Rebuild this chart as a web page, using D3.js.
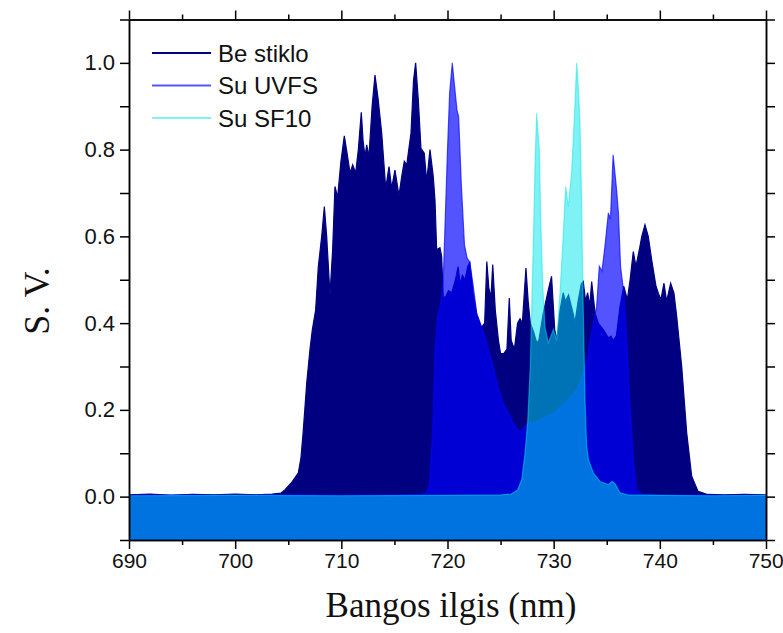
<!DOCTYPE html>
<html>
<head>
<meta charset="utf-8">
<script src="https://cdn.jsdelivr.net/npm/d3@7/dist/d3.min.js"></script>
<style>
  html, body { margin: 0; padding: 0; background: #fff; }
  svg { display: block; }
</style>
</head>
<body>
<svg id="chart" width="783" height="633"></svg>
<script>
// Normalised spectra, [wavelength nm, relative intensity]
const beStiklo = [
  [690,0.004],[692,0.006],[694,0.003],[696,0.005],[698,0.004],[700,0.006],[702,0.004],[703.5,0.006],
  [704.3,0.008],[704.7,0.016],[705.3,0.032],[705.95,0.055],[706.2,0.09],[706.4,0.147],[706.74,0.262],
  [707.05,0.34],[707.27,0.385],[707.58,0.43],[707.83,0.53],[708.15,0.60],[708.4,0.669],[708.62,0.60],
  [708.93,0.465],[709.18,0.569],[709.4,0.715],[709.65,0.69],[709.95,0.77],[710.28,0.832],[710.55,0.79],
  [710.82,0.746],[711.07,0.765],[711.35,0.746],[711.6,0.80],[711.88,0.886],[712.05,0.82],[712.23,0.784],
  [712.39,0.811],[712.6,0.784],[712.9,0.90],[713.17,0.972],[713.45,0.92],[713.8,0.839],[714.18,0.711],
  [714.49,0.761],[714.74,0.711],[715.05,0.753],[715.43,0.694],[715.7,0.74],[715.93,0.773],[716.16,0.765],
  [716.56,0.838],[716.8,0.96],[717.0,1.0],[717.25,0.915],[717.5,0.803],[717.81,0.792],[718.04,0.727],
  [718.35,0.80],[718.66,0.738],[718.82,0.684],[718.98,0.569],[719.29,0.574],[719.45,0.554],[719.6,0.46],
  [719.8,0.46],[720.1,0.475],[720.4,0.47],[720.75,0.50],[721.0,0.53],[721.2,0.49],[721.4,0.51],
  [721.65,0.50],[721.9,0.53],[722.1,0.54],[722.4,0.47],[722.75,0.42],[723.2,0.39],[723.5,0.40],
  [723.7,0.542],[723.9,0.48],[724.1,0.46],[724.26,0.535],[724.5,0.43],[724.8,0.36],[725.0,0.33],
  [725.3,0.33],[725.6,0.34],[725.82,0.458],[726.0,0.36],[726.3,0.34],[726.6,0.40],[726.83,0.41],
  [727.05,0.40],[727.39,0.527],[727.6,0.45],[727.8,0.40],[728.1,0.38],[728.4,0.355],[728.6,0.36],
  [729.0,0.42],[729.5,0.477],[729.8,0.508],[730.1,0.385],[730.3,0.36],[730.6,0.43],[730.9,0.47],
  [731.1,0.45],[731.4,0.465],[731.85,0.42],[732.0,0.40],[732.3,0.45],[732.6,0.49],[732.79,0.496],
  [733.0,0.45],[733.2,0.47],[733.4,0.44],[733.58,0.496],[733.9,0.423],[734.2,0.40],[734.68,0.385],
  [735.15,0.366],[735.4,0.37],[735.6,0.36],[735.9,0.37],[736.25,0.438],[736.6,0.485],[736.94,0.454],
  [737.2,0.50],[737.5,0.565],[737.75,0.531],[738.13,0.577],[738.3,0.60],[738.6,0.627],[738.91,0.60],
  [739.23,0.546],[739.64,0.485],[739.86,0.469],[740.1,0.454],[740.39,0.492],[740.64,0.45],[741.02,0.492],
  [741.33,0.469],[741.59,0.415],[742.06,0.30],[742.53,0.147],[743.0,0.047],[743.6,0.012],[744.5,0.005],
  [746,0.004],[748,0.005],[750,0.004]
];

const suUVFS = [
  [690,0.003],[695,0.004],[700,0.003],[705,0.004],[710,0.003],[715,0.004],[717.5,0.005],[718.0,0.008],
  [718.3,0.03],[718.6,0.15],[718.85,0.35],[719.1,0.42],[719.4,0.45],[719.6,0.5],[719.8,0.65],[720.0,0.8],
  [720.2,0.93],[720.45,1.0],[720.65,0.95],[720.9,0.89],[721.05,0.876],[721.3,0.72],[721.6,0.58],
  [721.85,0.55],[722.1,0.54],[722.4,0.49],[722.75,0.423],[723.2,0.392],[723.7,0.355],[724.3,0.30],
  [724.8,0.25],[725.26,0.216],[725.8,0.19],[726.2,0.17],[726.83,0.147],[727.2,0.16],[727.6,0.17],
  [728.24,0.17],[729.0,0.18],[730.1,0.193],[730.8,0.21],[731.35,0.223],[732.0,0.24],[732.6,0.27],
  [733.1,0.31],[733.5,0.37],[733.9,0.42],[734.05,0.438],[734.3,0.531],[734.55,0.52],[734.83,0.577],
  [735.15,0.654],[735.35,0.64],[735.6,0.788],[735.93,0.707],[736.1,0.654],[736.3,0.531],[736.6,0.47],
  [736.87,0.377],[737.1,0.25],[737.35,0.147],[737.55,0.07],[737.8,0.016],[738.3,0.006],[740,0.004],
  [745,0.003],[750,0.003]
];

const suSF10 = [
  [690,0.002],[700,0.003],[710,0.002],[720,0.003],[725,0.004],[726.0,0.006],[726.6,0.015],[727.0,0.04],
  [727.3,0.10],[727.55,0.17],[727.8,0.30],[727.95,0.45],[728.1,0.60],[728.25,0.77],[728.4,0.884],
  [728.55,0.83],[728.65,0.80],[728.77,0.646],[728.96,0.49],[729.18,0.39],[729.5,0.355],[729.97,0.385],
  [730.28,0.36],[730.6,0.47],[730.9,0.60],[731.13,0.715],[731.38,0.669],[731.69,0.745],[732.0,0.90],
  [732.17,1.0],[732.35,0.93],[732.48,0.86],[732.64,0.669],[732.72,0.516],[732.85,0.35],[732.95,0.223],
  [733.1,0.12],[733.27,0.085],[733.73,0.055],[734.36,0.035],[735.15,0.028],[735.5,0.035],[735.78,0.03],
  [736.25,0.009],[737,0.004],[740,0.003],[745,0.002],[750,0.003]
];

const seriesNames = ["Be stiklo", "Su UVFS", "Su SF10"];
const xMajorTicks = [690, 700, 710, 720, 730, 740, 750];
const xMinorTicks = [695, 705, 715, 725, 735, 745];
const yMajorTicks = [0.0, 0.2, 0.4, 0.6, 0.8, 1.0];
const yMinorTicks = [-0.1, 0.1, 0.3, 0.5, 0.7, 0.9, 1.1];
const xTitle = "Bangos ilgis (nm)";
const yTitle = "S. V.";

const svg = d3.select("#chart");
const plotLeft = 129, plotRight = 766, plotTop = 19.5, plotBottom = 540;

const x = d3.scaleLinear().domain([690, 750]).range([plotLeft, plotRight]);
const y = d3.scaleLinear().domain([-0.1, 1.1]).range([plotBottom, plotTop]);

const styles = [
  { data: beStiklo, color: "#000080", opacity: 1 },
  { data: suUVFS,   color: "#0000ff", opacity: 0.67 },
  { data: suSF10,   color: "#00e6eb", opacity: 0.5 }
];

const area = d3.area()
  .x(d => x(d[0]))
  .y0(y(-0.1))
  .y1(d => y(d[1]));
const line = d3.line()
  .x(d => x(d[0]))
  .y(d => y(d[1]));

svg.append("clipPath").attr("id", "plotClip")
  .append("rect").attr("x", plotLeft).attr("y", plotTop)
  .attr("width", plotRight - plotLeft).attr("height", plotBottom - plotTop);

const plot = svg.append("g").attr("clip-path", "url(#plotClip)");
styles.forEach(s => {
  plot.append("path").datum(s.data)
    .attr("d", area)
    .attr("fill", s.color)
    .attr("fill-opacity", s.opacity);
  plot.append("path").datum(s.data)
    .attr("d", line)
    .attr("fill", "none")
    .attr("stroke", s.color)
    .attr("stroke-opacity", s.opacity)
    .attr("stroke-width", 1.2);
});

// Axes: labelled bottom/left, mirrored unlabeled top/right, all ticks pointing out
const tickFont = "Liberation Sans, Arial, sans-serif";
function styleAxis(g, size) {
  g.selectAll(".domain").attr("stroke", "#000").attr("stroke-width", 1.5);
  g.selectAll(".tick line").attr("stroke", "#000").attr("stroke-width", 1.5);
  g.selectAll("text").attr("font-family", tickFont).attr("font-size", size || 22).attr("fill", "#111");
}

const xAxisG = svg.append("g").attr("transform", `translate(0,${plotBottom})`)
  .call(d3.axisBottom(x).tickValues(xMajorTicks).tickFormat(d3.format("d"))
    .tickSizeInner(9).tickSizeOuter(0).tickPadding(4))
  .call(styleAxis, 21);
// keep the last label inside the page edge
xAxisG.selectAll(".tick text").filter(d => d === 750).attr("text-anchor", "end").attr("dx", "0.82em");

svg.append("g").attr("transform", `translate(0,${plotBottom})`)
  .call(d3.axisBottom(x).tickValues(xMinorTicks).tickFormat("").tickSizeInner(5).tickSizeOuter(0))
  .call(styleAxis);
svg.append("g").attr("transform", `translate(0,${plotTop})`)
  .call(d3.axisTop(x).tickValues(xMajorTicks).tickFormat("").tickSizeInner(9).tickSizeOuter(0))
  .call(styleAxis);
svg.append("g").attr("transform", `translate(0,${plotTop})`)
  .call(d3.axisTop(x).tickValues(xMinorTicks).tickFormat("").tickSizeInner(5).tickSizeOuter(0))
  .call(styleAxis);

svg.append("g").attr("transform", `translate(${plotLeft},0)`)
  .call(d3.axisLeft(y).tickValues(yMajorTicks).tickFormat(d3.format(".1f"))
    .tickSizeInner(9).tickSizeOuter(0).tickPadding(5))
  .call(styleAxis, 22);
svg.append("g").attr("transform", `translate(${plotLeft},0)`)
  .call(d3.axisLeft(y).tickValues(yMinorTicks).tickFormat("").tickSizeInner(9).tickSizeOuter(0))
  .call(styleAxis);
svg.append("g").attr("transform", `translate(${plotRight},0)`)
  .call(d3.axisRight(y).tickValues(yMajorTicks).tickFormat("").tickSizeInner(9).tickSizeOuter(0))
  .call(styleAxis);
svg.append("g").attr("transform", `translate(${plotRight},0)`)
  .call(d3.axisRight(y).tickValues(yMinorTicks).tickFormat("").tickSizeInner(9).tickSizeOuter(0))
  .call(styleAxis);

// Axis titles
svg.append("text")
  .attr("x", 451).attr("y", 617)
  .attr("text-anchor", "middle")
  .attr("font-family", "Liberation Serif, Times New Roman, serif")
  .attr("font-size", 35).attr("fill", "#111")
  .text(xTitle);
svg.append("text")
  .attr("transform", `translate(49,301) rotate(-90)`)
  .attr("text-anchor", "middle")
  .attr("font-family", "Liberation Serif, Times New Roman, serif")
  .attr("font-size", 36).attr("fill", "#111")
  .text(yTitle);

// Legend
const legend = svg.append("g").attr("transform", "translate(152,53)");
styles.forEach((s, i) => {
  const row = legend.append("g").attr("transform", `translate(0,${i * 32.5})`);
  row.append("line").attr("x1", 0).attr("x2", 59).attr("y1", 0).attr("y2", 0)
    .attr("stroke", s.color).attr("stroke-opacity", s.opacity).attr("stroke-width", 2);
  row.append("text").attr("x", 66).attr("y", 8.5)
    .attr("font-family", tickFont).attr("font-size", 24).attr("fill", "#111")
    .text(seriesNames[i]);
});
</script>
</body>
</html>
